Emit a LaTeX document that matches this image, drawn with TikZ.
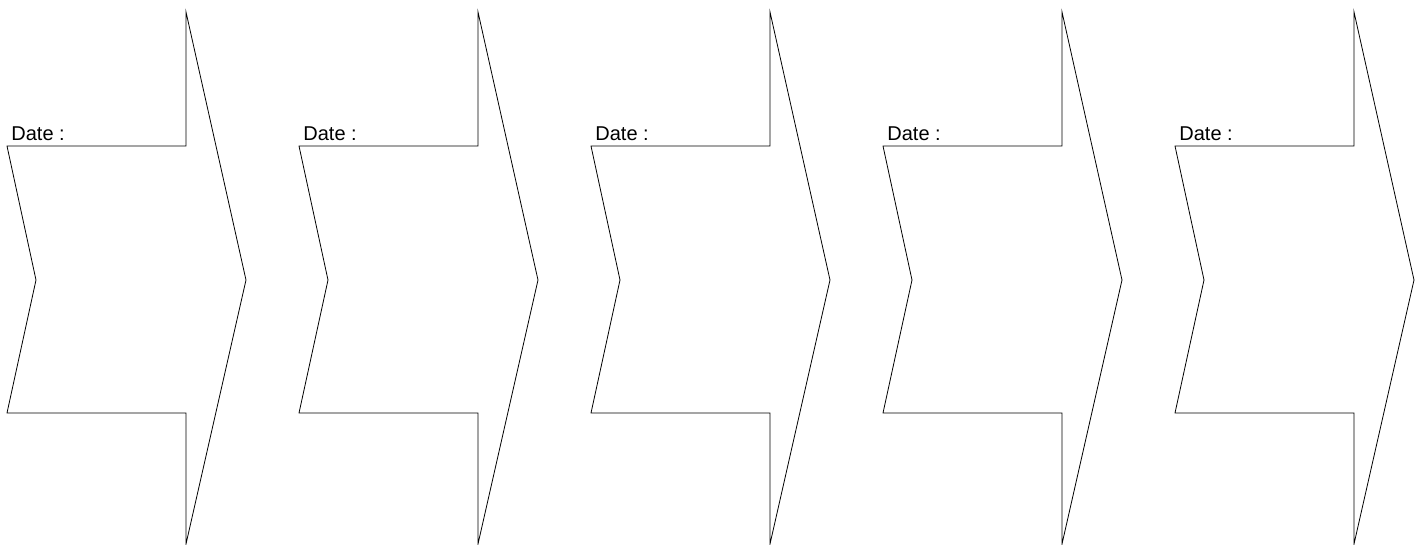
\documentclass[tikz,border=0pt]{standalone}
\usepackage{fontspec}
\setmainfont{Liberation Sans}
\usetikzlibrary{calc, positioning}

\begin{document}
\begin{tikzpicture}[x=1pt, y=-1pt, line width=0.8pt, line join=miter]
    \useasboundingbox (0, 0) rectangle (1425, 545);

    \foreach \i in {0,...,4} {
        \begin{scope}[xshift=7+292*\i]
            \draw (179, 12) -- (179, 146) -- (0, 146) -- (29, 280) -- (0, 413)
                -- (179, 413) -- (179, 544) -- (239, 280) -- cycle;
            \node[anchor=base west, inner sep=0pt, font=\fontsize{20}{24}\selectfont]
                (date\i) at (4, 141) {Date :};
        \end{scope}
    }
\end{tikzpicture}
\end{document}
